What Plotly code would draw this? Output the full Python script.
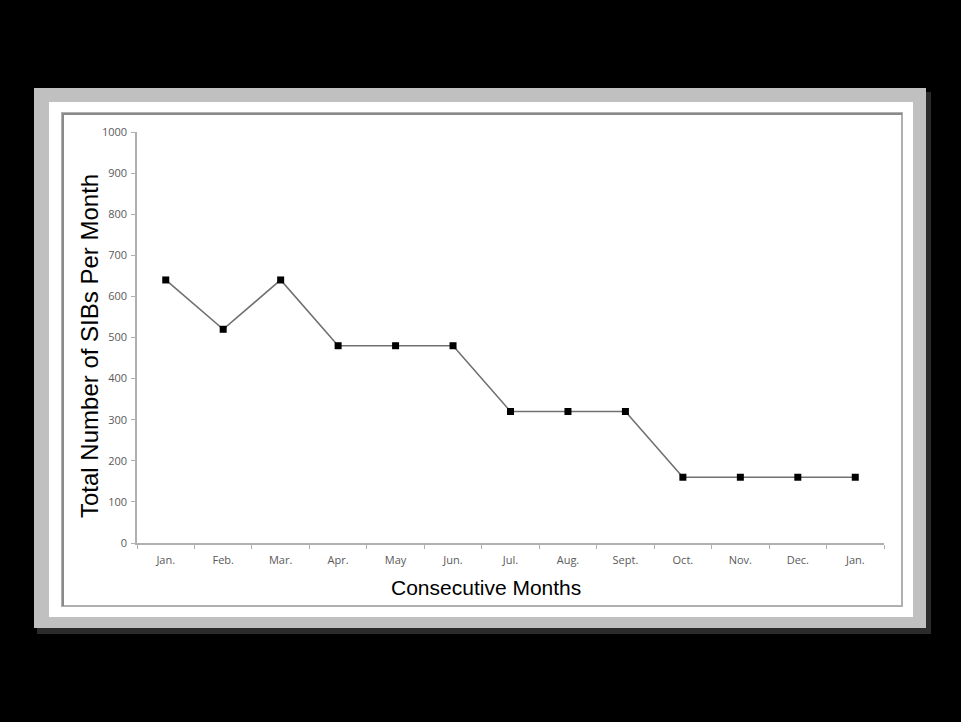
import plotly.graph_objects as go

months = ["Jan.", "Feb.", "Mar.", "Apr.", "May", "Jun.", "Jul.", "Aug.", "Sept.", "Oct.", "Nov.", "Dec.", "Jan."]
sibs = [640, 520, 640, 480, 480, 480, 320, 320, 320, 160, 160, 160, 160]
y_ticks = [0, 100, 200, 300, 400, 500, 600, 700, 800, 900, 1000]
x_title = "Consecutive Months"
y_title = "Total Number of SIBs Per Month"

W, H = 961, 722
L, R, T, B = 137, 884, 132, 543
pw, ph = R - L, B - T

def px(x):
    return (x - L) / pw

def py(y):
    return (B - y) / ph

x_idx = list(range(len(months)))

fig = go.Figure()
fig.add_trace(go.Scatter(
    x=x_idx, y=sibs, mode="lines+markers",
    line=dict(color="#707070", width=1.6),
    marker=dict(symbol="square", size=7, color="#000000"),
    showlegend=False, hoverinfo="skip",
))

shapes = [
    dict(type="rect", xref="paper", yref="paper", x0=px(37), x1=px(931), y0=py(634), y1=py(92),
         fillcolor="#2b2b2b", line=dict(width=0), layer="below"),
    dict(type="rect", xref="paper", yref="paper", x0=px(34), x1=px(926), y0=py(628), y1=py(88),
         fillcolor="#c0c0c0", line=dict(width=0), layer="below"),
    dict(type="rect", xref="paper", yref="paper", x0=px(49), x1=px(913), y0=py(617), y1=py(102),
         fillcolor="#ffffff", line=dict(width=0), layer="below"),
    dict(type="rect", xref="paper", yref="paper", x0=px(62), x1=px(902), y0=py(606), y1=py(113),
         fillcolor="#ffffff", line=dict(color="#b0b0b0", width=2), layer="below"),
    dict(type="line", xref="paper", yref="paper", x0=px(62), x1=px(902), y0=py(114), y1=py(114),
         line=dict(color="#8a8a8a", width=2), layer="below"),
    dict(type="line", xref="paper", yref="paper", x0=px(63), x1=px(63), y0=py(606), y1=py(113),
         line=dict(color="#8a8a8a", width=2), layer="below"),
]

annotations = [
    dict(text=x_title, xref="paper", yref="paper", x=px(486), y=py(587), xanchor="center", yanchor="middle",
         showarrow=False, font=dict(family="Liberation Sans, Arial, sans-serif", size=21, color="#000000")),
    dict(text=y_title, xref="paper", yref="paper", x=px(89), y=py(346), xanchor="center", yanchor="middle",
         textangle=-90, showarrow=False,
         font=dict(family="Liberation Sans, Arial, sans-serif", size=24, color="#000000")),
]

tick_font = dict(family="Open Sans, Lato, sans-serif", size=11, color="#5a5a5a")

fig.update_layout(
    width=W, height=H,
    margin=dict(l=L, r=W - R, t=T, b=H - B, pad=0),
    paper_bgcolor="#000000",
    plot_bgcolor="#ffffff",
    shapes=shapes,
    annotations=annotations,
    xaxis=dict(
        range=[-0.5, len(months) - 0.5],
        tickmode="array", tickvals=x_idx, ticktext=months,
        ticks="", showgrid=False, zeroline=False,
        showline=True, linecolor="#b0b0b0", linewidth=1.5,
        tickfont=tick_font, ticklabelstandoff=6,
        minor=dict(tick0=-0.5, dtick=1, ticks="outside", ticklen=4, tickcolor="#b0b0b0", tickwidth=1.2, showgrid=False),
        fixedrange=True, automargin=False,
    ),
    yaxis=dict(
        range=[0, 1000],
        tickmode="array", tickvals=y_ticks,
        ticks="outside", ticklen=4, tickcolor="#b0b0b0", tickwidth=1.2,
        showgrid=False, zeroline=False,
        showline=True, linecolor="#b0b0b0", linewidth=1.5,
        tickfont=tick_font, ticklabelstandoff=2,
        fixedrange=True, automargin=False,
    ),
)

fig.write_html(
    "out.html",
    config={"displayModeBar": False},
    post_script="document.body.style.margin='0';document.body.style.background='#000';",
)
